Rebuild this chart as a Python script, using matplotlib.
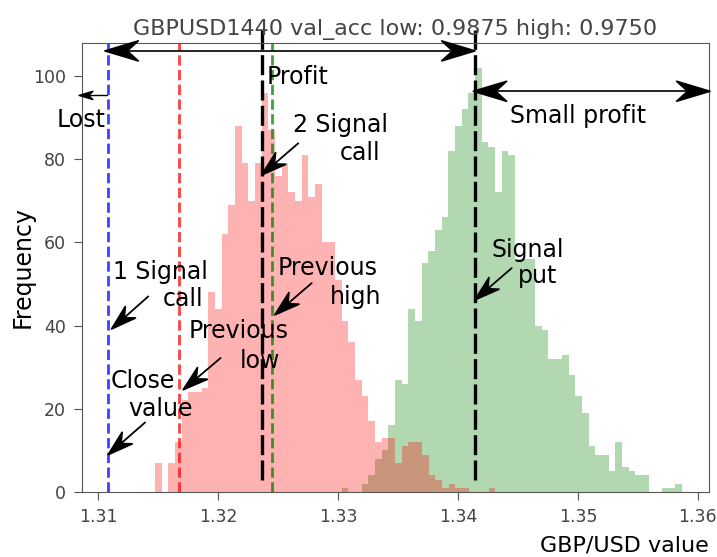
import numpy as np
import matplotlib
matplotlib.use("Agg")
import matplotlib.pyplot as plt
from matplotlib.patches import ArrowStyle
from matplotlib.path import Path

# histogram counts (bin width ~0.000556)
bin_width = 0.000556
low_start = 1.31475
low_counts = [7, 0, 7, 12, 22, 24, 24, 25, 48, 44, 62, 69, 88, 79, 70, 79, 96, 87,
              76, 79, 72, 70, 81, 71, 74, 60, 60, 51, 41, 36, 27, 23, 17, 12, 13, 13,
              7, 11, 12, 12, 9, 4, 3, 1, 2, 1, 1, 0, 0, 0, 1]
high_start = 1.33031
high_counts = [1, 0, 0, 2, 4, 8, 10, 16, 27, 26, 44, 41, 55, 58, 63, 66, 82, 88,
               92, 96, 102, 84, 83, 72, 82, 81, 56, 56, 56, 40, 39, 32, 32, 33, 28,
               23, 19, 11, 9, 9, 5, 12, 6, 5, 4, 4, 0, 0, 1, 1, 2]

close_value = 1.31086
prev_low = 1.31678
prev_high = 1.32447
signal_call = 1.32364
signal_put = 1.34142


class Stealth(ArrowStyle._Base):
    """arrow with swallow-tail heads, sizes in points"""

    def __init__(self, length=18, width=5.5, back=0.33, both=False):
        self.length, self.width, self.back, self.both = length, width, back, both
        super().__init__()

    def _head(self, tip, d, L, W):
        n = np.array([-d[1], d[0]])
        verts = [tip, tip - d * L + n * W, tip - d * L * (1 - self.back),
                 tip - d * L - n * W, tip]
        return Path(verts, closed=True), tip - d * L * (1 - self.back)

    def transmute(self, path, mutation_size, linewidth):
        p0, p1 = path.vertices[0], path.vertices[-1]
        d = (p1 - p0) / np.hypot(*(p1 - p0))
        L, W = self.length * mutation_size, self.width * mutation_size
        h1, end = self._head(p1, d, L, W)
        paths, fills = [h1], [True]
        start = p0
        if self.both:
            h0, start = self._head(p0, -d, L, W)
            paths.append(h0)
            fills.append(True)
        paths.insert(0, Path([start, end]))
        fills.insert(0, False)
        return paths, fills


low_edges = low_start + bin_width * np.arange(len(low_counts) + 1)
high_edges = high_start + bin_width * np.arange(len(high_counts) + 1)

fig = plt.figure(figsize=(7.17, 5.57), dpi=100)
ax = fig.add_axes([0.1144, 0.1167, 0.8744, 0.8061])

ax.hist(high_edges[:-1], bins=high_edges, weights=high_counts,
        histtype="stepfilled", color="green", alpha=0.3)
ax.hist(low_edges[:-1], bins=low_edges, weights=low_counts,
        histtype="stepfilled", color="red", alpha=0.3)

ax.axvline(close_value, color="blue", linestyle="--", linewidth=2.0, alpha=0.75)
ax.axvline(prev_low, color="red", linestyle="--", linewidth=2.0, alpha=0.75)
ax.axvline(prev_high, color="green", linestyle="--", linewidth=2.0, alpha=0.75)

for xv in [signal_call, signal_put]:
    ax.plot([xv, xv], [3, 111], color="black", linewidth=2.4,
            dashes=(6, 1.6), clip_on=False)

ax.set_xlim(1.30867, 1.36092)
ax.set_ylim(0, 107.9)
ax.set_xticks([1.31, 1.32, 1.33, 1.34, 1.35, 1.36])
ax.set_yticks([0, 20, 40, 60, 80, 100])
ax.tick_params(labelsize=12.5, labelcolor="#444444", color="#555555",
               length=5.5, pad=6)
for sp in ax.spines.values():
    sp.set_color("#555555")

ax.set_title("GBPUSD1440 val_acc low: 0.9875 high: 0.9750",
             fontsize=16, color="#444444", pad=6)
ax.set_ylabel("Frequency", fontsize=17, labelpad=-1)
ax.set_xlabel("GBP/USD value", fontsize=16, loc="right", labelpad=7)

# range arrows
big = dict(arrowstyle=Stealth(24, 7.2, 0.33, both=True), mutation_scale=1,
           color="black", lw=1.2, shrinkA=0, shrinkB=0)
ax.annotate("", xy=(1.31058, 106.0), xytext=(1.34142, 106.0),
            arrowprops=big, annotation_clip=False)
ax.annotate("", xy=(1.34128, 96.3), xytext=(1.3610, 96.3),
            arrowprops=big, annotation_clip=False)
ax.annotate("", xy=(1.30842, 95.3), xytext=(1.31072, 95.3),
            arrowprops=dict(arrowstyle=Stealth(10, 3, 0.3), mutation_scale=1,
                            color="black", lw=1.0, shrinkA=0, shrinkB=0),
            annotation_clip=False)

# pointer arrows (tail -> head)
pointers = [
    ((1.32669, 83.8), (1.32364, 76.2)),
    ((1.31419, 47.0), (1.31114, 39.2)),
    ((1.31392, 16.7), (1.31086, 9.0)),
    ((1.32022, 32.2), (1.31711, 24.6)),
    ((1.32781, 50.2), (1.32475, 42.6)),
    ((1.34448, 53.8), (1.34142, 46.2)),
]
small = dict(arrowstyle=Stealth(18, 5.5, 0.33), mutation_scale=1,
             color="black", lw=1.3, shrinkA=0, shrinkB=0)
for tail, head in pointers:
    ax.annotate("", xy=head, xytext=tail, arrowprops=small)

labels = [
    ("Lost", 1.30658, 87.8),
    ("Profit", 1.32408, 98.1),
    ("Small profit", 1.34433, 88.7),
    ("2 Signal", 1.32625, 86.5),
    ("call", 1.33017, 79.7),
    ("1 Signal", 1.31125, 51.2),
    ("call", 1.31542, 44.6),
    ("Close", 1.31108, 25.0),
    ("value", 1.31253, 18.2),
    ("Previous", 1.31753, 37.0),
    ("low", 1.32178, 29.8),
    ("Previous", 1.32496, 52.2),
    ("high", 1.32933, 45.2),
    ("Signal", 1.34281, 56.5),
    ("put", 1.34500, 50.3),
]
for txt, xv, yv in labels:
    ax.text(xv, yv, txt, fontsize=17, ha="left", va="baseline", color="black")

fig.savefig("out.png", dpi=100)
